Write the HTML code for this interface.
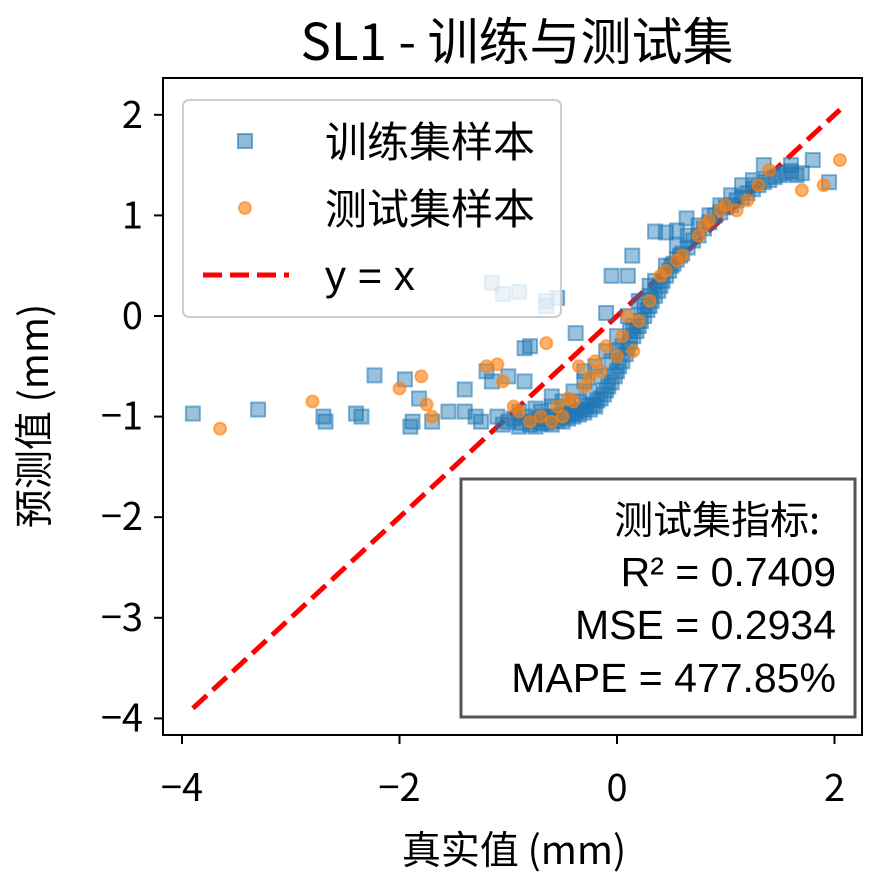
<!DOCTYPE html>
<html><head><meta charset="utf-8"><style>
html,body{margin:0;padding:0;background:#fff;}
svg text{font-family:"Noto Sans CJK SC","Liberation Sans",sans-serif;}
svg text.lat{font-family:"Liberation Sans","Noto Sans CJK SC",sans-serif;}
</style></head><body>
<svg id="chart" width="885" height="885" viewBox="0 0 885 885" xmlns="http://www.w3.org/2000/svg">
<rect width="885" height="885" fill="#fff"/>
<text x="517" y="60" font-size="51" text-anchor="middle">SL1 - 训练与测试集</text>
<g id="ticks"></g>
<g id="line"></g>
<g id="train"></g>
<g id="test"></g>
<rect x="163" y="78" width="699" height="657" fill="none" stroke="#000" stroke-width="2"/>
<g>
<rect x="183" y="100" width="378" height="217" rx="6" fill="#fff" fill-opacity="0.8" stroke="#ccc" stroke-width="2"/>
<rect x="238" y="134" width="14" height="14" fill="#1f77b4" fill-opacity="0.5" stroke="#1f77b4" stroke-opacity="0.6" stroke-width="2"/>
<text x="325" y="157" font-size="42">训练集样本</text>
<circle cx="245" cy="208" r="6" fill="#ff7f0e" fill-opacity="0.6" stroke="#ff7f0e" stroke-opacity="0.6" stroke-width="2"/>
<text x="325" y="224" font-size="42">测试集样本</text>
<line x1="203" y1="275" x2="289" y2="275" stroke="#f00" stroke-width="5" stroke-dasharray="19,8"/>
<text x="325" y="290" font-size="42" class="lat">y = x</text>
</g>
<g>
<rect x="461" y="479" width="394" height="238" fill="#fff" stroke="#555" stroke-width="3"/>
<text x="820" y="534" font-size="39" text-anchor="end">测试集指标:</text>
<text x="836" y="586" font-size="41" class="lat" text-anchor="end">R² = 0.7409</text>
<text x="836" y="639" font-size="41" class="lat" text-anchor="end">MSE = 0.2934</text>
<text x="836" y="692" font-size="41" class="lat" text-anchor="end">MAPE = 477.85%</text>
</g>
<text x="514" y="864" font-size="39" text-anchor="middle">真实值 (mm)</text>
<text transform="translate(48,416) rotate(-90)" font-size="39" text-anchor="middle">预测值 (mm)</text>
</svg>
<script>
const xTicks=[-4,-2,0,2];
const yTicks=[2,1,0,-1,-2,-3,-4];
const lineRange=[-3.9,2.05];
const trainX=[-3.9,-3.3,-2.7,-2.68,-2.4,-2.35,-2.23,-1.95,-1.82,-1.9,-1.88,-1.7,-1.55,-1.4,-1.4,-1.2,-1.15,-1.15,-1.05,-0.9,-0.65,-0.65,-0.55,-1.0,-0.85,-0.85,-0.8,-0.38,-0.1,-0.05,0.1,0.14,0.35,0.45,0.55,0.64,
-1.3,-1.25,-1.1,-1.05,-1.0,-0.95,-0.9,-0.88,-0.85,-0.8,
-0.78,-0.75,-0.72,-0.7,-0.68,-0.65,-0.62,-0.6,-0.58,-0.55,
-0.52,-0.5,-0.48,-0.45,-0.42,-0.4,-0.38,-0.35,-0.32,-0.3,
-0.28,-0.25,-0.22,-0.2,-0.18,-0.15,-0.12,-0.1,-0.08,-0.05,
-0.02,0.0,0.02,0.05,0.08,0.1,0.12,0.15,0.18,0.2,
0.22,0.25,0.28,0.3,0.32,0.35,0.38,0.4,0.42,0.45,
0.48,0.5,0.52,0.55,0.58,0.6,0.65,0.7,0.75,0.8,
0.85,0.9,0.95,1.0,1.05,1.1,1.15,1.2,1.25,1.3,
1.35,1.4,1.45,1.5,1.55,1.6,1.65,1.7,1.8,1.95,
1.35,1.6,
-0.7,-0.6,-0.5,-0.4,-0.3,-0.2,-0.1,0.0,0.1,0.2,0.3,-0.9,-0.75,-0.55,-0.45,-0.35,-0.25,-0.15,-0.05,0.05,0.15,0.25,0.35,0.45,0.55,0.65,0.75,0.85,0.95,1.05,1.15,1.25,-0.6,-0.3,0.0,0.12,0.3];
const trainY=[-0.97,-0.93,-1.0,-1.05,-0.97,-1.0,-0.59,-0.63,-0.82,-1.1,-1.05,-1.05,-0.95,-0.95,-0.73,-0.55,-0.65,0.33,0.22,0.24,0.1,0.15,0.18,-0.6,-0.65,-0.32,-0.3,-0.17,0.03,0.4,0.4,0.6,0.84,0.83,0.85,0.97,
-1.0,-1.05,-1.0,-1.08,-1.05,-1.02,-1.1,-1.06,-1.0,-1.08,
-1.05,-1.1,-1.02,-1.07,-1.0,-1.06,-1.03,-1.08,-1.0,-1.04,
-1.0,-1.05,-0.98,-1.02,-0.97,-1.0,-0.95,-0.98,-0.93,-0.96,
-0.9,-0.93,-0.88,-0.9,-0.84,-0.82,-0.78,-0.74,-0.7,-0.66,
-0.6,-0.55,-0.5,-0.45,-0.38,-0.32,-0.26,-0.2,-0.15,-0.1,
-0.05,0.0,0.06,0.1,0.15,0.2,0.25,0.3,0.35,0.4,
0.45,0.5,0.52,0.56,0.6,0.62,0.68,0.75,0.8,0.87,
0.93,1.0,1.03,1.08,1.1,1.15,1.18,1.22,1.26,1.3,
1.33,1.35,1.38,1.4,1.42,1.44,1.4,1.42,1.55,1.33,
1.5,1.5,
-0.95,-0.9,-0.85,-0.75,-0.65,-0.5,-0.35,-0.2,0.0,0.15,0.3,-0.95,-0.92,-1.0,-0.9,-0.85,-0.75,-0.6,-0.45,-0.3,-0.1,0.1,0.35,0.5,0.7,0.8,0.9,1.0,1.1,1.2,1.3,1.35,-0.8,-0.55,-0.35,-0.15,0.2];
const testX=[-3.65,-2.8,-2.0,-1.8,-1.75,-1.7,-1.2,-1.1,-1.05,-0.95,-0.65,2.05,1.7,1.9,
-0.9,-0.8,-0.7,-0.6,-0.55,-0.45,-0.4,-0.35,-0.3,-0.2,-0.15,-0.1,0.0,0.05,0.1,0.2,0.3,0.4,0.45,0.55,0.6,0.75,0.8,0.85,0.95,1.0,1.1,1.2,1.3,1.4,-0.25,-0.5,0.15];
const testY=[-1.12,-0.85,-0.72,-0.6,-0.88,-1.0,-0.5,-0.48,-0.65,-0.9,-0.27,1.55,1.25,1.3,
-0.95,-1.05,-1.0,-1.05,-0.9,-0.82,-0.85,-0.5,-0.7,-0.45,-0.55,-0.3,-0.4,-0.2,0.0,-0.05,0.15,0.4,0.45,0.55,0.6,0.8,0.9,0.95,1.05,1.1,1.05,1.15,1.3,1.45,-0.6,-1.0,-0.35];
const X=v=>617+108.75*v, Y=v=>316-100.6*v;
const NS='http://www.w3.org/2000/svg';
function mk(t,a,p){const e=document.createElementNS(NS,t);for(const k in a)e.setAttribute(k,a[k]);document.getElementById(p).appendChild(e);return e;}
xTicks.forEach(v=>{
 const l=mk('line',{x1:X(v),x2:X(v),y1:735,y2:744,stroke:'#000','stroke-width':2},'ticks');
 
 
 const t=mk('text',{x:X(v),y:801,'font-size':38,'text-anchor':'middle'},'ticks');
 
 
 t.textContent=(v<0?'\u2212'+(-v):v);
});
yTicks.forEach(v=>{
 const l=mk('line',{x1:154,x2:163,y1:Y(v),y2:Y(v),stroke:'#000','stroke-width':2},'ticks');
 
 
 const t=mk('text',{x:143,y:Y(v)+13,'font-size':38,'text-anchor':'end'},'ticks');
 
 
 t.textContent=(v<0?'\u2212'+(-v):v);
});
trainX.forEach((v,i)=>{
 const r=mk('rect',{x:X(v)-7,y:Y(trainY[i])-7,width:14,height:14,fill:'#1f77b4','fill-opacity':0.45,stroke:'#1f77b4','stroke-opacity':0.55,'stroke-width':2},'train');
 
 
});
testX.forEach((v,i)=>{
 const c=mk('circle',{cx:X(v),cy:Y(testY[i]),r:6,fill:'#ff7f0e','fill-opacity':0.6,stroke:'#ff7f0e','stroke-opacity':0.6,'stroke-width':2},'test');
 
 
});
const ln=mk('line',{x1:X(lineRange[0]),y1:Y(lineRange[0]),x2:X(lineRange[1]),y2:Y(lineRange[1]),stroke:'#f00','stroke-width':5,'stroke-dasharray':'19,8'},'line');


</script>
</body></html>
